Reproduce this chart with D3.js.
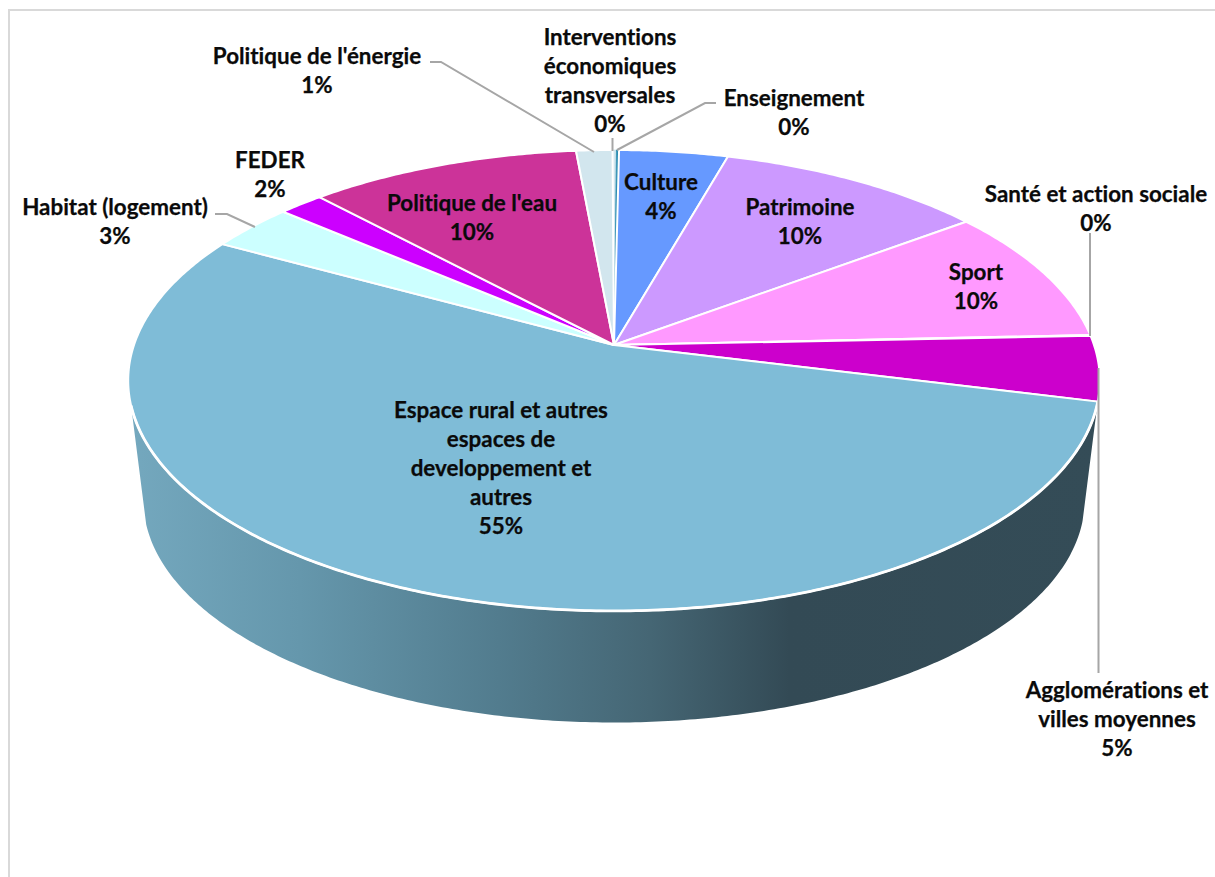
<!DOCTYPE html>
<html><head><meta charset="utf-8">
<script src="https://cdn.jsdelivr.net/npm/d3@7/dist/d3.min.js"></script>
<style>html,body{margin:0;padding:0;background:#fff}svg{display:block}text{font-family:Lato,"Open Sans",sans-serif;font-weight:700;fill:#0a0a0a;stroke:#0a0a0a;stroke-width:.25px;font-variant-ligatures:none}</style>
</head><body><div id="chart"></div>
<script>
const categories=["Interventions économiques transversales","Enseignement","Culture","Patrimoine","Sport","Santé et action sociale","Agglomérations et villes moyennes","Espace rural et autres espaces de developpement et autres","Habitat (logement)","FEDER","Politique de l'eau","Politique de l'énergie"];
const values=[0.15,0.1,4.2,10.4,9.5,0.05,4.55,54.1,3.3,1.75,10.5,1.4];
const percentLabels=["0%","0%","4%","10%","10%","0%","5%","55%","3%","2%","10%","1%"];
const colors=["#D2E6EE","#2F8FB3","#6699FF","#CC99FF","#FF99FF","#9DC3E6","#CC00CC","#7FBCD7","#CCFFFF","#CC00FF","#CC3399","#D2E6EE"];

// label layout, keyed by category index: wrapped lines, centre x, first-line centre y
const labelLines=[["Interventions","économiques","transversales"],["Enseignement"],["Culture"],["Patrimoine"],["Sport"],["Santé et action sociale"],["Agglomérations et","villes moyennes"],["Espace rural et autres","espaces de","developpement et","autres"],["Habitat (logement)"],["FEDER"],["Politique de l'eau"],["Politique de l'énergie"]];
const labelX=[610,794,661,800,976,1096,1117,501,115,270,472,317];
const labelY=[37,98,182,207,272,194,690,410,207,160,203,56];
const leaders=[[[612.5,138],[612.5,151]],[[716,103],[705,103],[617,150]],[],[],[],[[1090,233],[1090,336]],[[1098.5,368],[1098.5,673]],[],[[215,214],[227,214],[255,227]],[],[],[[430,62],[441,62],[594,152]]];

const W=1215,H=877,persp=0.154,startDeg=-0.2,wallEndDeg=255;
const topDisc={cx:614,cy:345,a:225,b:480};
const lowDisc={cx:614,cy:466,a:217,b:465};
const project=(t,d)=>{const u=Math.sin(t),v=-Math.cos(t),w=1-persp*v;return [d.cx+d.b*u/w,d.cy+d.a*v/w];};
const arcPts=(s,e,d)=>{const n=Math.max(2,Math.ceil((e-s)/0.01));return d3.range(n+1).map(i=>project(s+(e-s)*i/n,d));};
const line=d3.line();

const svg=d3.select("#chart").append("svg").attr("width",W).attr("height",H);
svg.append("path").attr("d",line([[9,H],[9,10],[W,10]])).attr("fill","none").attr("stroke","#d9d9d9").attr("stroke-width",2);

const grad=svg.append("defs").append("linearGradient").attr("id","wall").attr("gradientUnits","userSpaceOnUse").attr("x1",130).attr("x2",1100).attr("y1",0).attr("y2",0);
[[0,"#74A8BE"],[0.175,"#6597AC"],[0.38,"#527C8E"],[0.536,"#456674"],[0.68,"#334A55"],[1,"#344C57"]].forEach(s=>grad.append("stop").attr("offset",s[0]).attr("stop-color",s[1]));

const pie=d3.pie().sort(null).value(d=>d).startAngle(startDeg*Math.PI/180).endAngle(startDeg*Math.PI/180+2*Math.PI);
const arcs=pie(values);
const biggest=d3.greatest(arcs,a=>a.value);
const wallEnd=wallEndDeg*Math.PI/180;
svg.append("path").attr("fill","url(#wall)")
  .attr("d",line(arcPts(biggest.startAngle,wallEnd,topDisc).concat(arcPts(biggest.startAngle,wallEnd,lowDisc).reverse()))+"Z");

svg.append("g").selectAll("path").data(arcs).join("path")
  .attr("d",a=>line([[topDisc.cx,topDisc.cy]].concat(arcPts(a.startAngle,a.endAngle,topDisc)))+"Z")
  .attr("fill",(a,i)=>colors[i])
  .attr("stroke",(a,i)=>(a.value>=0.1&&a.value<1)?colors[i]:"#fff")
  .attr("stroke-width",(a)=>(a.value>=0.1&&a.value<1)?0.8:2)
  .attr("stroke-linejoin","round");
svg.append("path").attr("d",line(arcPts(biggest.startAngle,wallEnd,topDisc))).attr("fill","none").attr("stroke","#fff").attr("stroke-width",2.8);

svg.append("g").selectAll("path").data(leaders.filter(l=>l.length)).join("path")
  .attr("d",l=>line(l)).attr("fill","none").attr("stroke","#A6A6A6").attr("stroke-width",2);

const FS=22.4,LH=29.1;
const g=svg.append("g").attr("font-size",FS).attr("text-anchor","middle");
categories.forEach((c,i)=>{
  const lines=labelLines[i].concat([percentLabels[i]]);
  lines.forEach((t,j)=>g.append("text").attr("x",labelX[i]).attr("y",labelY[i]+j*LH).attr("dy","0.35em").text(t));
});
</script></body></html>
